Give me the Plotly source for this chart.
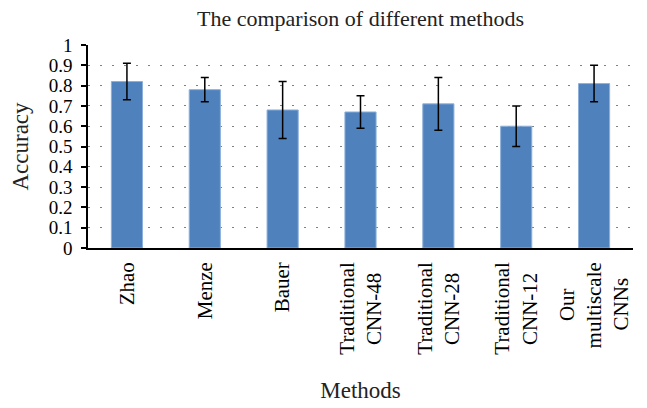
import plotly.graph_objects as go

categories = ["Zhao", "Menze", "Bauer", "Traditional CNN-48", "Traditional CNN-28",
              "Traditional CNN-12", "Our multiscale CNNs"]
tick_labels = [
    "Zhao",
    "Menze",
    "Bauer",
    "Traditional<br>CNN-48\u00a0\u00a0",
    "Traditional<br>CNN-28\u00a0\u00a0",
    "Traditional<br>CNN-12\u00a0\u00a0",
    "Our\u00a0\u00a0\u00a0\u00a0\u00a0<br>multiscale<br>CNNs\u00a0\u00a0\u00a0",
]
accuracy = [0.82, 0.78, 0.68, 0.67, 0.71, 0.60, 0.81]
error = [0.09, 0.06, 0.14, 0.08, 0.13, 0.10, 0.09]

FONT = "Liberation Serif"

fig = go.Figure()
fig.add_trace(go.Bar(
    x=categories,
    y=accuracy,
    marker=dict(color="#4F81BD", line=dict(color="#8DB0DA", width=1)),
    error_y=dict(type="data", array=error, visible=True, color="black",
                 thickness=1.5, width=4),
    width=0.4,
))

fig.update_layout(
    width=647, height=408,
    margin=dict(l=88, r=14, t=45, b=160),
    paper_bgcolor="white", plot_bgcolor="white",
    showlegend=False,
    font=dict(family=FONT, size=21, color="black"),
    title=dict(text="The comparison of different methods", x=0.5, xref="paper",
               xanchor="center", y=1 - 18 / 408, yanchor="middle",
               font=dict(family=FONT, size=22, color="#222")),
    bargap=0.6,
)
fig.update_xaxes(
    tickmode="array", tickvals=categories, ticktext=tick_labels,
    tickangle=-90, showline=True, linecolor="black", linewidth=1.5,
    ticks="", showgrid=False,
    tickfont=dict(family=FONT, size=21, color="black"),
    ticklabelstandoff=4,
    title=dict(text="Methods", font=dict(family=FONT, size=23, color="#222"), standoff=28),
    automargin=False,
)
fig.update_yaxes(
    range=[0, 1], dtick=0.1, tick0=0,
    showline=True, linecolor="black", linewidth=1.5,
    ticks="outside", ticklen=5, tickcolor="black", tickwidth=1.5,
    showgrid=True, gridcolor="#808080", gridwidth=1, griddash="2px,10px",
    zeroline=False,
    tickfont=dict(family=FONT, size=19, color="black"),
    ticklabelstandoff=5,
    title=dict(text="Accuracy", font=dict(family=FONT, size=23, color="#222"), standoff=14),
    automargin=False,
)

fig.write_html("out.html", config={"displayModeBar": False},
               post_script="document.body.style.margin='0';")
